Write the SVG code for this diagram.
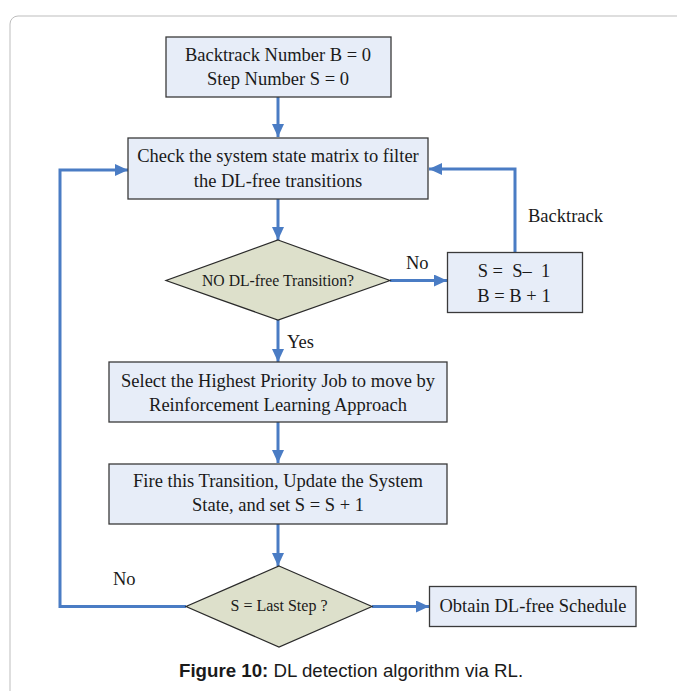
<svg xmlns="http://www.w3.org/2000/svg" width="677" height="691" viewBox="0 0 677 691">
<style>
.box{fill:#e7edf8;stroke:#3a3a3a;stroke-width:1.3}
.dia{fill:#dde0cb;stroke:#2a2a2a;stroke-width:1.2}
.t{font-family:"Liberation Serif","Times New Roman",serif;font-size:18.5px;fill:#1a1a1a}
.c{text-anchor:middle}
.dt{font-family:"Liberation Serif","Times New Roman",serif;font-size:17.5px;fill:#1a1a1a;text-anchor:middle}
.cap{font-family:"Liberation Sans",Arial,sans-serif;font-size:18.7px;fill:#1a1a1a}
.ln{fill:none;stroke:#4a7cc4;stroke-width:3}
</style>
<defs>
<marker id="ah" markerUnits="userSpaceOnUse" markerWidth="14" markerHeight="12" refX="13" refY="6" orient="auto">
<path d="M0,0 L13,6 L0,12 Z" fill="#4a7cc4"/>
</marker>
</defs>
<rect x="10" y="16" width="720" height="720" rx="8" fill="none" stroke="#bdbdbd" stroke-width="1"/>
<g id="connectors">
<path class="ln" d="M278,97 V137" marker-end="url(#ah)"/>
<path class="ln" d="M278,199 V240" marker-end="url(#ah)"/>
<path class="ln" d="M390,280.5 H447" marker-end="url(#ah)"/>
<path class="ln" d="M515,252.5 V169 H429" marker-end="url(#ah)"/>
<path class="ln" d="M278,320 V362" marker-end="url(#ah)"/>
<path class="ln" d="M278,422 V463" marker-end="url(#ah)"/>
<path class="ln" d="M278,524 V566" marker-end="url(#ah)"/>
<path class="ln" d="M372,606.5 H429" marker-end="url(#ah)"/>
<path class="ln" d="M186,606.5 H60 V170 H128" marker-end="url(#ah)"/>
<text class="t" x="406" y="269">No</text>
<text class="t" x="528" y="222">Backtrack</text>
<text class="t" x="287" y="348">Yes</text>
<text class="t" x="113" y="585">No</text>
</g>
<g id="init">
<rect class="box" x="166" y="37" width="225" height="60"/>
<text class="t c" x="278" y="61">Backtrack Number B = 0</text>
<text class="t c" x="278" y="85">Step Number S = 0</text>
</g>
<g id="check">
<rect class="box" x="128" y="138" width="300" height="61"/>
<text class="t c" x="278" y="162">Check the system state matrix to filter</text>
<text class="t c" x="278" y="186.5">the DL-free transitions</text>
</g>
<g id="dlfree">
<polygon class="dia" points="278,240 390,280.5 278,320 166,280.5"/>
<text class="dt" x="278" y="286" textLength="152" lengthAdjust="spacingAndGlyphs">NO DL-free Transition?</text>
</g>
<g id="backtrack">
<rect class="box" x="447.5" y="252.5" width="135" height="60"/>
<text class="t c" x="514" y="276.5" style="white-space:pre">S =  S–  1</text>
<text class="t c" x="514" y="301.5">B = B + 1</text>
</g>
<g id="select">
<rect class="box" x="109" y="362" width="338" height="60"/>
<text class="t c" x="278" y="386.5">Select the Highest Priority Job to move by</text>
<text class="t c" x="278" y="410.5">Reinforcement Learning Approach</text>
</g>
<g id="fire">
<rect class="box" x="109" y="464" width="338" height="60"/>
<text class="t c" x="278" y="487">Fire this Transition, Update the System</text>
<text class="t c" x="278" y="511">State, and set S = S + 1</text>
</g>
<g id="laststep">
<polygon class="dia" points="279,566 372,606.5 279,647 186,606.5"/>
<text class="dt" x="279" y="611" textLength="97" lengthAdjust="spacingAndGlyphs">S = Last Step ?</text>
</g>
<g id="obtain">
<rect class="box" x="429.5" y="586.5" width="206.5" height="40"/>
<text class="t c" x="533" y="612">Obtain DL-free Schedule</text>
</g>
<text class="cap" x="179" y="677"><tspan font-weight="bold">Figure 10:</tspan> DL detection algorithm via RL.</text>
</svg>
